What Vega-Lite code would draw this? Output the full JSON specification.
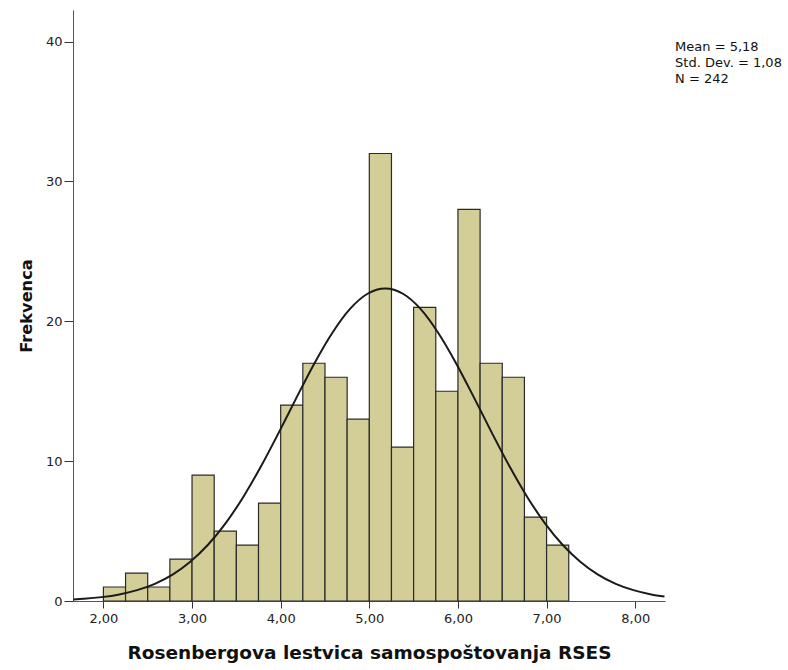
{
  "$schema": "https://vega.github.io/schema/vega-lite/v6.json",
  "width": 592,
  "height": 591,
  "autosize": {"type": "none"},
  "padding": {"left": 73, "top": 10, "right": 123, "bottom": 69},
  "background": "white",
  "config": {
    "view": {"stroke": null},
    "font": "DejaVu Sans",
    "axis": {"grid": false, "labelFont": "DejaVu Sans", "titleFont": "DejaVu Sans", "labelColor": "#222", "titleColor": "#111", "domainColor": "#555", "tickColor": "#333", "labelFontSize": 13, "titleFontWeight": "bold"}
  },
  "datasets": {
    "bins": [
      {"start": 2.0, "end": 2.25, "count": 1},
      {"start": 2.25, "end": 2.5, "count": 2},
      {"start": 2.5, "end": 2.75, "count": 1},
      {"start": 2.75, "end": 3.0, "count": 3},
      {"start": 3.0, "end": 3.25, "count": 9},
      {"start": 3.25, "end": 3.5, "count": 5},
      {"start": 3.5, "end": 3.75, "count": 4},
      {"start": 3.75, "end": 4.0, "count": 7},
      {"start": 4.0, "end": 4.25, "count": 14},
      {"start": 4.25, "end": 4.5, "count": 17},
      {"start": 4.5, "end": 4.75, "count": 16},
      {"start": 4.75, "end": 5.0, "count": 13},
      {"start": 5.0, "end": 5.25, "count": 32},
      {"start": 5.25, "end": 5.5, "count": 11},
      {"start": 5.5, "end": 5.75, "count": 21},
      {"start": 5.75, "end": 6.0, "count": 15},
      {"start": 6.0, "end": 6.25, "count": 28},
      {"start": 6.25, "end": 6.5, "count": 17},
      {"start": 6.5, "end": 6.75, "count": 16},
      {"start": 6.75, "end": 7.0, "count": 6},
      {"start": 7.0, "end": 7.25, "count": 4}
    ],
    "curve": [
      {"x": 1.66, "y": 0.11},
      {"x": 1.78, "y": 0.157},
      {"x": 1.98, "y": 0.277},
      {"x": 2.18, "y": 0.472},
      {"x": 2.38, "y": 0.776},
      {"x": 2.58, "y": 1.23},
      {"x": 2.78, "y": 1.89},
      {"x": 2.98, "y": 2.81},
      {"x": 3.18, "y": 4.02},
      {"x": 3.38, "y": 5.57},
      {"x": 3.58, "y": 7.46},
      {"x": 3.78, "y": 9.65},
      {"x": 3.98, "y": 12.06},
      {"x": 4.18, "y": 14.56},
      {"x": 4.38, "y": 16.99},
      {"x": 4.58, "y": 19.15},
      {"x": 4.78, "y": 20.87},
      {"x": 4.98, "y": 21.97},
      {"x": 5.18, "y": 22.35},
      {"x": 5.38, "y": 21.97},
      {"x": 5.58, "y": 20.87},
      {"x": 5.78, "y": 19.15},
      {"x": 5.98, "y": 16.99},
      {"x": 6.18, "y": 14.56},
      {"x": 6.38, "y": 12.06},
      {"x": 6.58, "y": 9.65},
      {"x": 6.78, "y": 7.46},
      {"x": 6.98, "y": 5.57},
      {"x": 7.18, "y": 4.02},
      {"x": 7.38, "y": 2.81},
      {"x": 7.58, "y": 1.89},
      {"x": 7.78, "y": 1.23},
      {"x": 7.98, "y": 0.776},
      {"x": 8.18, "y": 0.472},
      {"x": 8.33, "y": 0.318}
    ],
    "stats": [
      {"text": ["Mean = 5,18", "Std. Dev. = 1,08", "N = 242"]}
    ]
  },
  "layer": [
    {
      "data": {"name": "bins"},
      "mark": {"type": "rect", "fill": "#d3ce97", "stroke": "#2a2a2a", "strokeWidth": 1.2},
      "encoding": {
        "x": {"field": "start", "type": "quantitative", "scale": {"domain": [1.657, 8.336], "nice": false, "zero": false},
          "axis": {"title": "Rosenbergova lestvica samospoštovanja RSES", "titleFontSize": 18.5, "values": [2, 3, 4, 5, 6, 7, 8], "labelExpr": "replace(format(datum.value, '.2f'), '.', ',')", "tickSize": 7, "labelPadding": 4, "titlePadding": 18}},
        "x2": {"field": "end"},
        "y": {"field": "count", "type": "quantitative", "scale": {"domain": [0, 42.26], "nice": false},
          "axis": {"title": "Frekvenca", "titleFontSize": 16.2, "values": [0, 10, 20, 30, 40], "tickSize": 9, "labelPadding": 2, "titlePadding": 11}},
        "y2": {"datum": 0}
      }
    },
    {
      "data": {"name": "curve"},
      "mark": {"type": "line", "color": "#1a1a1a", "strokeWidth": 2, "interpolate": "monotone", "clip": true},
      "encoding": {
        "x": {"field": "x", "type": "quantitative"},
        "y": {"field": "y", "type": "quantitative"}
      }
    },
    {
      "data": {"name": "stats"},
      "mark": {"type": "text", "align": "left", "baseline": "top", "fontSize": 13, "lineHeight": 16, "color": "#111", "font": "DejaVu Sans"},
      "encoding": {
        "x": {"datum": 8.45},
        "y": {"datum": 40.05},
        "text": {"field": "text"}
      }
    }
  ]
}
